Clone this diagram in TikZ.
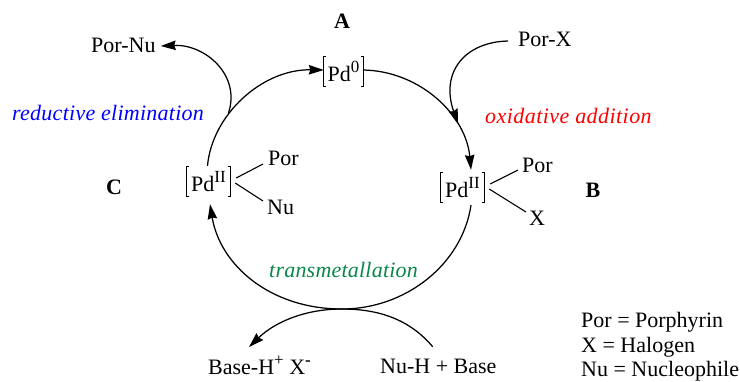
\documentclass[tikz,border=0pt]{standalone}
\usepackage{fontspec}
\setmainfont{Liberation Serif}
\usetikzlibrary{arrows.meta}
\definecolor{tmgreen}{RGB}{10,135,75}
\newcommand{\fs}{\fontsize{22}{26}\selectfont}
\newcommand{\sq}[1]{\raisebox{0.42em}{\fontsize{17}{19}\selectfont #1}}
\tikzset{
  lab/.style={inner sep=0pt,font=\fs},
  bold/.style={lab,font=\fs\bfseries},
  pdbox/.style={inner sep=0pt,font=\fs,minimum height=29pt},
  arc/.style={line width=1.25pt,-{Stealth[length=15pt,width=9.5pt,inset=1.5pt]}},
  plain/.style={line width=1.25pt},
  bond/.style={line width=1.1pt},
  brk/.style={line width=0.9pt}
}
\newcommand{\brackets}[1]{%
  \draw[brk] ([xshift=2pt]#1.north west) -- (#1.north west) -- (#1.south west) -- ([xshift=2pt]#1.south west);
  \draw[brk] ([xshift=-2pt]#1.north east) -- (#1.north east) -- (#1.south east) -- ([xshift=-2pt]#1.south east);
}
\begin{document}
\begin{tikzpicture}[x=1pt,y=-1pt]
\useasboundingbox (0,0) rectangle (740,381);
% metal centres
\node[pdbox,minimum width=39pt] (pda) at (343.5,71.5) {Pd\sq{0}};
\node[pdbox,minimum width=43pt] (pdb) at (462.5,187.5) {Pd\sq{II}};
\node[pdbox,minimum width=43pt] (pdc) at (208.5,181.5) {Pd\sq{II}};
\brackets{pda}\brackets{pdb}\brackets{pdc}
% labels
\node[bold] (A) at (342,21) {A};
\node[bold] (B) at (593,190) {B};
\node[bold] (C) at (114,187) {C};
\node[lab,anchor=west] (pornu) at (91,45) {Por-Nu};
\node[lab,anchor=west] (porx) at (518,39.5) {Por-X};
\node[lab,anchor=west] (porc) at (268,158) {Por};
\node[lab,anchor=west] (nuc) at (267,207) {Nu};
\node[lab,anchor=west] (porb) at (522,165) {Por};
\node[lab,anchor=west] (xb) at (529,218) {X};
\node[lab,anchor=west,font=\fs\itshape,text=blue] (re) at (12,113) {\addfontfeatures{LetterSpace=1.2}reductive elimination};
\node[lab,anchor=west,font=\fs\itshape,text=red] (oa) at (485,115.5) {\addfontfeatures{LetterSpace=2}oxidative addition};
\node[lab,anchor=west,font=\fs\itshape,text=tmgreen] (tm) at (269,270) {\addfontfeatures{LetterSpace=1}transmetallation};
\node[lab,anchor=west] (bh) at (208,365) {Base-H\sq{+} X\sq{\textbf{-}}};
\node[lab,anchor=west] (nh) at (380,366) {Nu-H + Base};
\node[lab,anchor=base west] (l1) at (581,327) {Por = Porphyrin};
\node[lab,anchor=base west] (l2) at (581,352) {X = Halogen};
\node[lab,anchor=base west] (l3) at (581,376) {Nu = Nucleophile};
% junction points
\coordinate (top) at (228.5,113);
\coordinate (mid) at (458,124);
\coordinate (bot) at (342,309);
\coordinate (nhe) at (432.7,346.7);
\coordinate (bhtip) at (249,347);
% cycle
\draw[arc] ([xshift=-1pt,yshift=1pt]pdc.north) .. controls (212,115) and (262,69) .. ([yshift=1.5pt]pda.west);
\draw[arc] ([yshift=1.5pt]pda.east) .. controls (420,71) and (466,115) .. ([xshift=8.5pt,yshift=3pt]pdb.north);
\draw[plain] ([xshift=8.5pt,yshift=-3pt]pdb.south) .. controls (462,265) and (405,309) .. (bot);
\draw[arc] (bot) .. controls (270,309) and (220,265) .. ([xshift=1.5pt,yshift=-8pt]pdc.south);
% side arrows
\draw[arc] (top) .. controls (241,75) and (205,44) .. ([xshift=5pt,yshift=-1pt]pornu.east);
\draw[arc] ([xshift=-10pt,yshift=-1.5pt]porx.west) .. controls (465,42) and (440,72) .. (mid);
\draw[plain] (nhe) .. controls (410,320) and (380,309) .. (bot);
\draw[arc] (bot) .. controls (305,309) and (275,322) .. (bhtip);
% bonds
\draw[bond] ([xshift=6pt,yshift=3.5pt]pdc.east) -- ([xshift=-5pt,yshift=-6pt]porc.west);
\draw[bond] ([xshift=5pt,yshift=-1.5pt]pdc.east) -- ([xshift=-4pt,yshift=6pt]nuc.west);
\draw[bond] ([xshift=6pt,yshift=3.5pt]pdb.east) -- ([xshift=-4pt,yshift=-5pt]porb.west);
\draw[bond] ([xshift=5pt,yshift=-1.5pt]pdb.east) -- ([xshift=-3pt,yshift=6pt]xb.west);
\end{tikzpicture}
\end{document}
